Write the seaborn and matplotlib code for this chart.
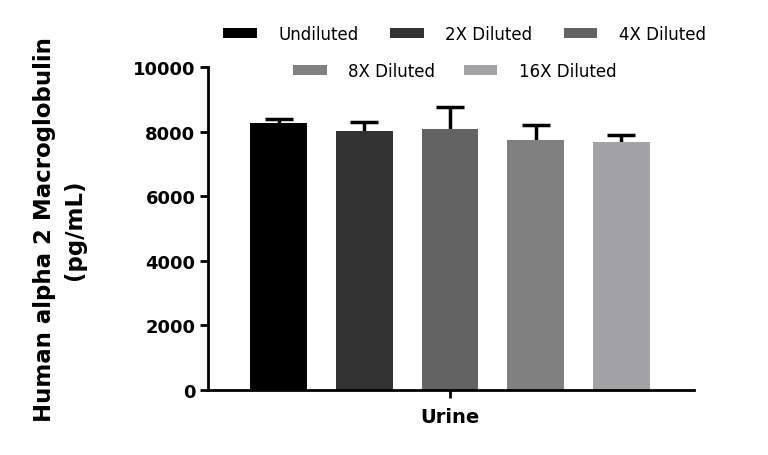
import matplotlib
matplotlib.use("Agg")
import matplotlib.pyplot as plt
import seaborn as sns
import pandas as pd
from matplotlib.patches import Patch

# Data
sample = ["Urine"] * 5
dilutions = ["Undiluted", "2X Diluted", "4X Diluted", "8X Diluted", "16X Diluted"]
means = [8270, 8010, 8070, 7750, 7690]
sds = [120, 280, 690, 460, 190]
colors = ["#000000", "#333333", "#636363", "#808080", "#a3a3a6"]

sns.set_theme(style="ticks")
plt.rcParams["font.family"] = ["DejaVu Sans"]
plt.rcParams["text.color"] = "black"
plt.rcParams["axes.labelcolor"] = "black"
plt.rcParams["xtick.color"] = "black"
plt.rcParams["ytick.color"] = "black"

df = pd.DataFrame({"Sample": sample, "Dilution": dilutions, "Value": means})

fig = plt.figure(figsize=(7.68, 4.56), dpi=100)
ax = fig.add_axes([0.2708, 0.1425, 0.6328, 0.7084])

sns.barplot(data=df, x="Sample", y="Value", hue="Dilution", hue_order=dilutions,
            palette=colors, width=0.8, gap=0.335, errorbar=None, legend=False,
            ax=ax, linewidth=0, saturation=1, zorder=2)

# error bars (upper only)
patches = [p for p in ax.patches]
for p, m, s in zip(patches, means, sds):
    cx = p.get_x() + p.get_width() / 2
    ax.vlines(cx, m, m + s, color="black", linewidth=2.5, zorder=1)
    ax.hlines(m + s, cx - 0.026, cx + 0.026, color="black", linewidth=2.5, zorder=1)

ax.set_ylim(0, 10000)
ax.set_xlim(-0.452, 0.4556)
ax.set_yticks([0, 2000, 4000, 6000, 8000, 10000])
ax.tick_params(axis="y", labelsize=13, width=2, length=6, pad=3)
ax.tick_params(axis="x", labelsize=14, width=2, length=6, pad=6)
for lab in ax.get_yticklabels() + ax.get_xticklabels():
    lab.set_fontweight("bold")
ax.set_xlabel("")
ax.set_ylabel("Human alpha 2 Macroglobulin\n(pg/mL)", fontsize=16.5, fontweight="bold",
              labelpad=34, linespacing=1.35)
for sp in ["top", "right"]:
    ax.spines[sp].set_visible(False)
for sp in ["left", "bottom"]:
    ax.spines[sp].set_linewidth(2)
    ax.spines[sp].set_color("black")

handles = [Patch(facecolor=c, edgecolor="none") for c in colors]
common = dict(loc="center", frameon=False, fontsize=12, handlelength=2.0, handleheight=0.55,
              handletextpad=1.3)
leg1 = fig.legend(handles[:3], dilutions[:3], bbox_to_anchor=(0.605, 0.923), ncol=3,
                  columnspacing=1.9, **common)
leg2 = fig.legend(handles[3:], dilutions[3:], bbox_to_anchor=(0.592, 0.843), ncol=2,
                  columnspacing=1.7, **common)

fig.savefig("out.png", dpi=100)
